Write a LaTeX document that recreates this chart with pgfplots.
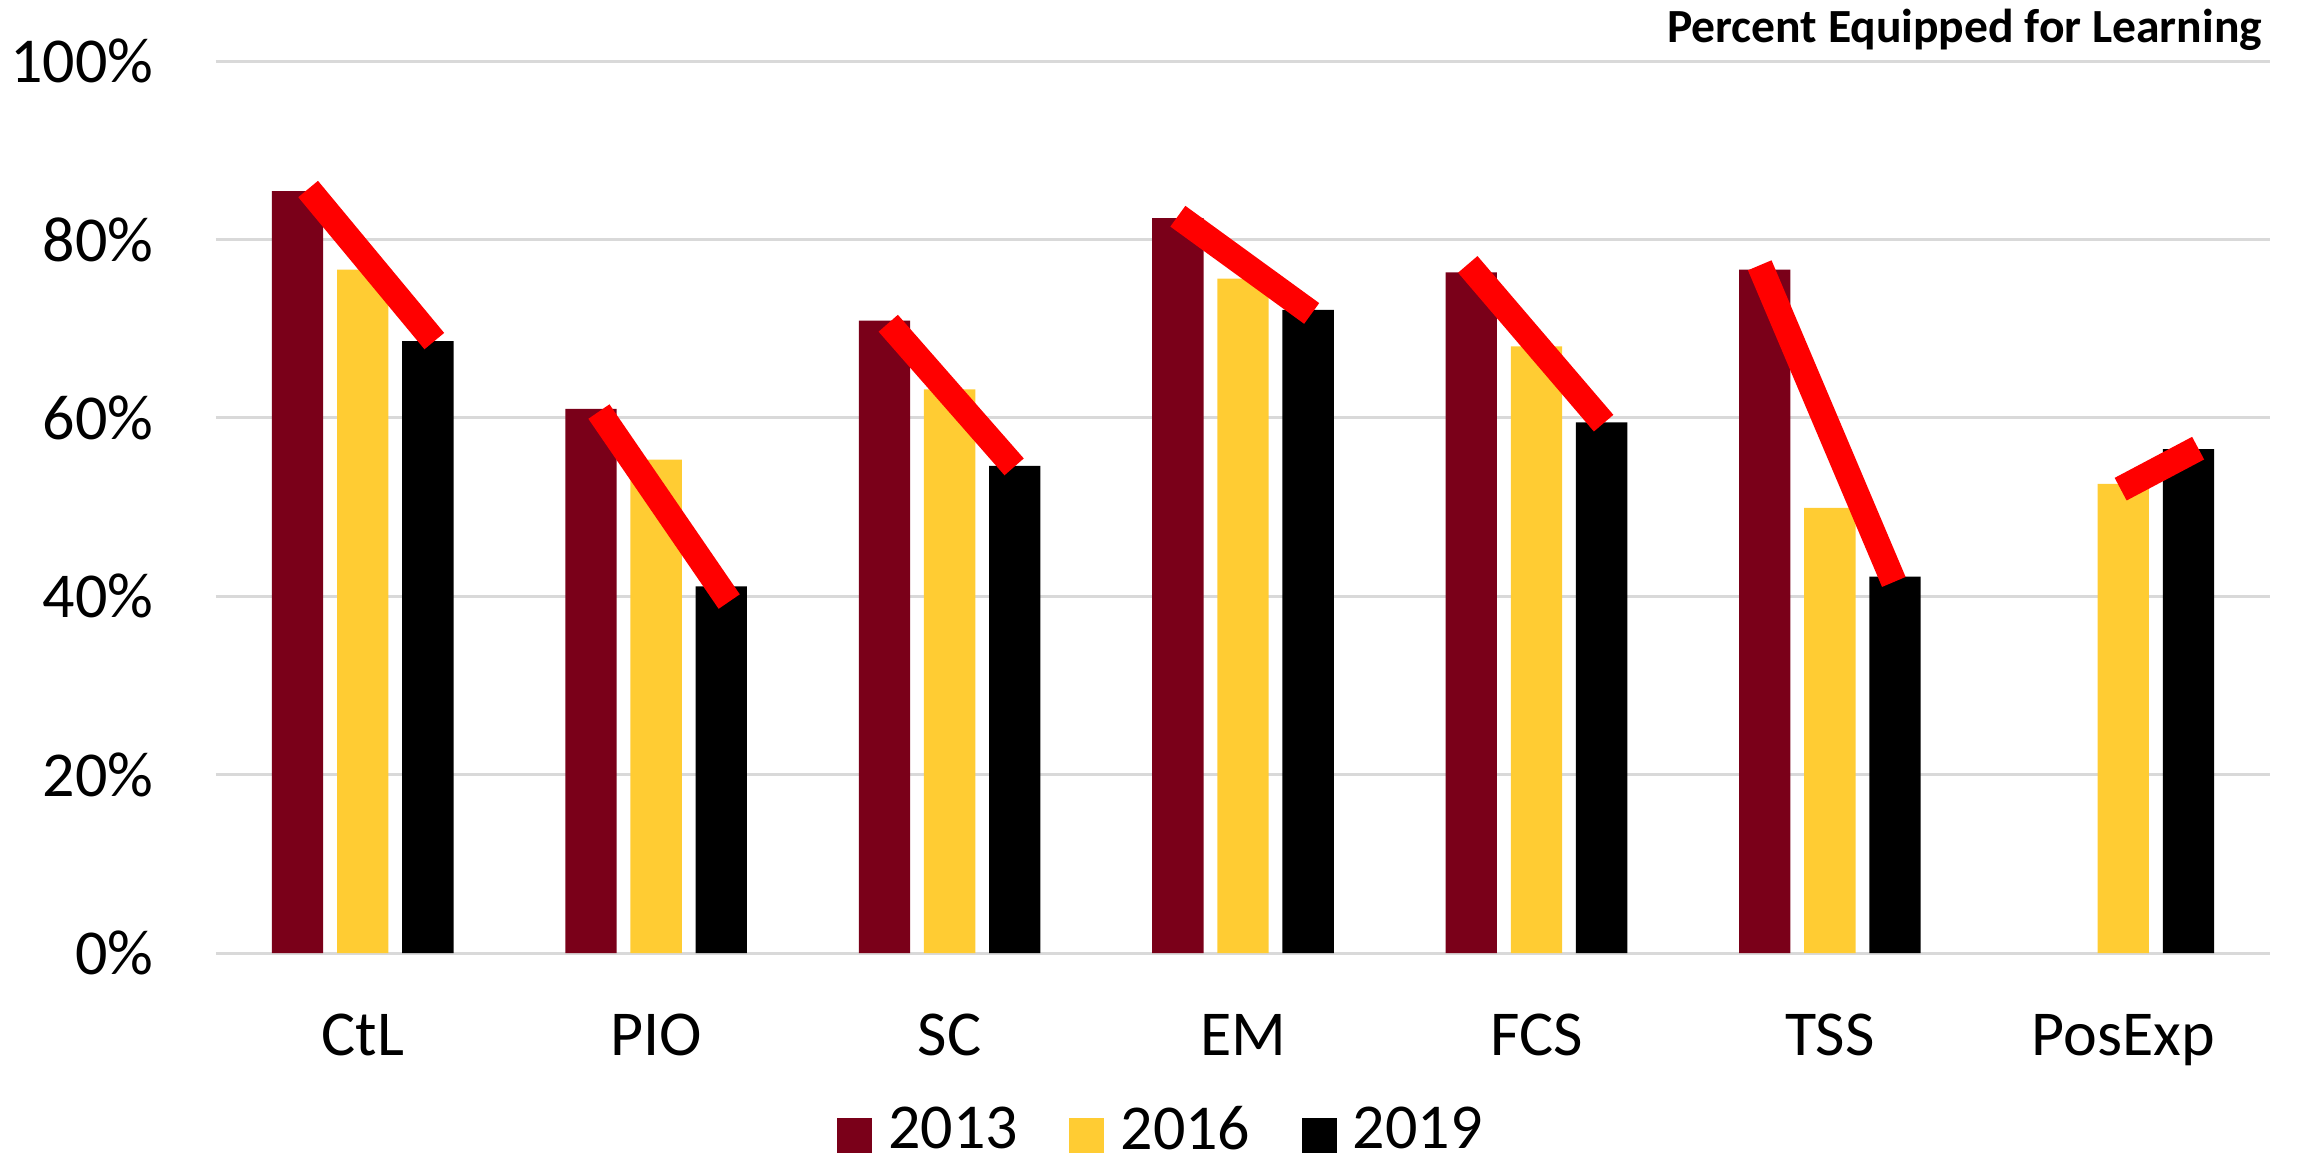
\documentclass[border=0pt]{standalone}
\usepackage{fontspec}
\setmainfont{Carlito}
\usepackage{pgfplots}
\pgfplotsset{compat=1.18}
\definecolor{maroon}{HTML}{7A0019}
\definecolor{gold}{HTML}{FFCC33}
\definecolor{gridgray}{HTML}{D9D9D9}
\definecolor{trend}{HTML}{FF0000}

% values per year, categories at x = 0..6
\pgfplotstableread{
x  y
0  85.4
1  61.0
2  70.9
3  82.4
4  76.3
5  76.6
}\yrA
\pgfplotstableread{
x  y
0  76.6
1  55.3
2  63.2
3  75.6
4  68.0
5  49.9
6  52.6
}\yrB
\pgfplotstableread{
x  y
0  68.6
1  41.1
2  54.6
3  72.1
4  59.5
5  42.2
6  56.5
}\yrC

\begin{document}
\begin{tikzpicture}
\begin{axis}[
  at={(0,0)}, anchor=south west,
  width=513.5pt, height=223pt, scale only axis,
  xmin=-0.5, xmax=6.5, ymin=0, ymax=100,
  clip=false,
  axis line style={draw=none},
  major tick length=0pt,
  ymajorgrids=true,
  grid style={draw=gridgray, line width=0.75pt},
  xtick={0,...,6},
  xticklabels={CtL,PIO,SC,EM,FCS,TSS,PosExp},
  ytick={0,20,...,100},
  yticklabels={0\%,20\%,40\%,60\%,80\%,100\%},
  tick label style={font=\fontsize{16}{19}\selectfont},
  yticklabel style={anchor=east, inner sep=0pt, xshift=-15.5pt},
  xticklabel style={anchor=base, inner sep=0pt, yshift=-25.7pt},
  legend columns=3,
  legend style={draw=none, fill=none, at={(0.4615,-0.199)}, anchor=center,
    font=\fontsize{16}{19}\selectfont,
    nodes={inner ysep=0pt},
    /tikz/every even column/.append style={column sep=10.8pt}},
  legend image code/.code={\fill[#1] (0pt,-5.5pt) rectangle (8.75pt,3.25pt);
    \path (10.8pt,0pt);},
]
\addplot[ybar, bar width=0.175, bar shift=-0.222, fill=maroon, draw=none] table[x=x, y=y] {\yrA};
\addplot[ybar, bar width=0.175, bar shift=0, fill=gold, draw=none] table[x=x, y=y] {\yrB};
\addplot[ybar, bar width=0.175, bar shift=0.222, fill=black, draw=none] table[x=x, y=y] {\yrC};
\legend{2013,2016,2019}

% hand-drawn trend strokes from first to last year
\addplot[forget plot, draw=trend, line width=6.4pt, line cap=butt, no marks, unbounded coords=jump] coordinates {
  (-0.186,85.65) (0.244,68.6) (0.5,nan)
  (0.805,60.7) (1.249,39.4) (1.5,nan)
  (1.791,70.6) (2.220,54.5) (2.5,nan)
  (2.778,82.6) (3.234,71.7) (3.5,nan)
  (3.766,77.2) (4.229,59.4) (4.5,nan)
  (4.761,77.1) (5.218,41.6) (5.5,nan)
  (5.991,52.0) (6.255,56.6)
};

\node[anchor=base east, inner sep=0pt, font=\fontsize{11.9}{14}\selectfont\bfseries]
  at (rel axis cs:1,1) [xshift=-1.75pt, yshift=4.75pt] {Percent Equipped for Learning};
\end{axis}
\pgfresetboundingbox
\path[use as bounding box] (-54pt,-51.75pt) rectangle (521pt,238.25pt);
\end{tikzpicture}
\end{document}
